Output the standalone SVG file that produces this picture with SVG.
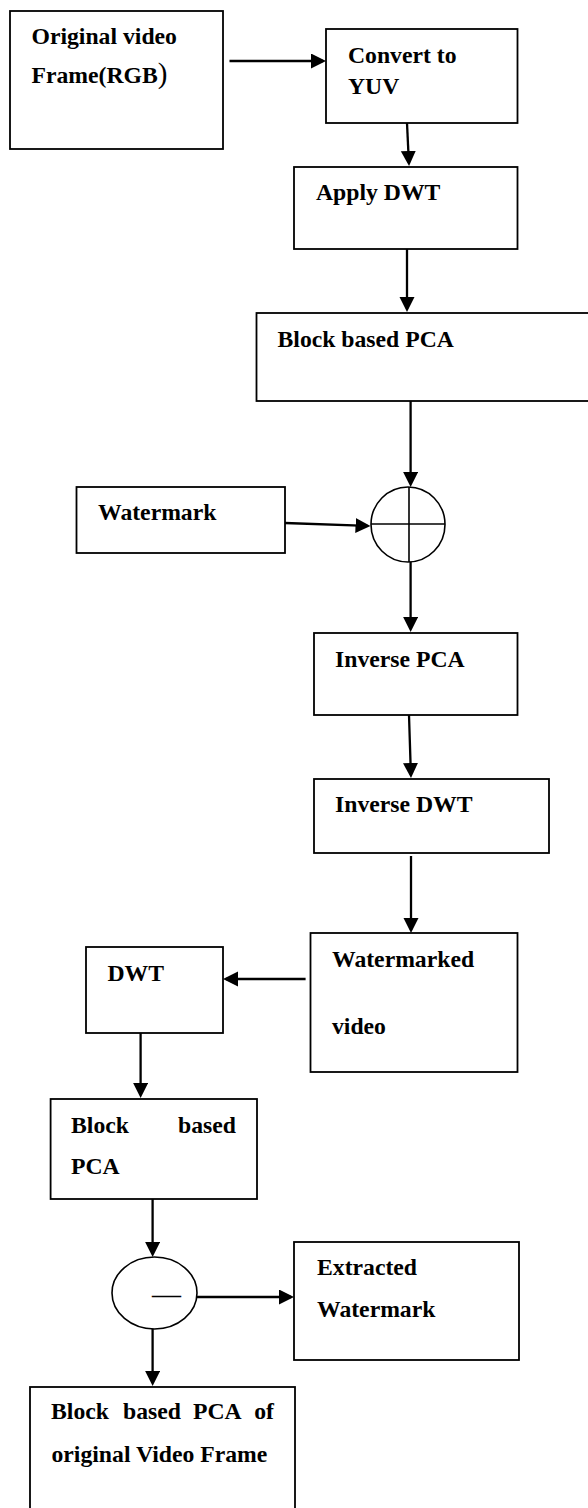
<svg xmlns="http://www.w3.org/2000/svg" width="588" height="1508" viewBox="0 0 588 1508">
<style>
.box{fill:#fff;stroke:#000;stroke-width:1.8}
.circ{fill:none;stroke:#000;stroke-width:1.6}
.t{font-family:"Liberation Serif","Times New Roman",serif;font-weight:bold;font-size:23.7px;fill:#000}
.c{fill:none;stroke:#000;stroke-width:2.3}
</style>
<defs>
<marker id="ah" markerUnits="userSpaceOnUse" markerWidth="16" markerHeight="16" refX="12" refY="7.5" orient="auto">
<path d="M0,0 L15,7.5 L0,15 Z" fill="#000"/>
</marker>
</defs>
<rect width="588" height="1508" fill="#fff"/>
<g id="n-original">
<rect class="box" x="10" y="11" width="213" height="138"/>
<text class="t" x="31.5" y="44">Original video</text>
<text class="t" x="31.5" y="83">Frame(RGB<tspan font-weight="normal" font-size="29">)</tspan></text>
</g>
<g id="n-yuv">
<rect class="box" x="326" y="29" width="191.5" height="94"/>
<text class="t" x="348" y="63">Convert to</text>
<text class="t" x="348" y="94">YUV</text>
</g>
<g id="n-dwt">
<rect class="box" x="294" y="167" width="223.5" height="82"/>
<text class="t" x="316" y="200">Apply DWT</text>
</g>
<g id="n-pca">
<rect class="box" x="256.5" y="313" width="345" height="88"/>
<text class="t" x="277.5" y="347">Block based PCA</text>
</g>
<g id="n-watermark">
<rect class="box" x="76.5" y="487" width="208.5" height="66"/>
<text class="t" x="98" y="520">Watermark</text>
</g>
<g id="n-sum">
<ellipse class="circ" cx="408" cy="524.5" rx="37" ry="37.5"/>
<line class="circ" x1="409" y1="487" x2="409" y2="562"/>
<line class="circ" x1="371" y1="524" x2="445" y2="524"/>
</g>
<g id="n-ipca">
<rect class="box" x="314" y="633" width="203.5" height="82"/>
<text class="t" x="335" y="667">Inverse PCA</text>
</g>
<g id="n-idwt">
<rect class="box" x="314" y="779" width="235" height="74"/>
<text class="t" x="335" y="812">Inverse DWT</text>
</g>
<g id="n-wmvideo">
<rect class="box" x="310.5" y="933" width="207" height="139"/>
<text class="t" x="332" y="967">Watermarked</text>
<text class="t" x="332" y="1034">video</text>
</g>
<g id="n-dwt2">
<rect class="box" x="86" y="947" width="137" height="86"/>
<text class="t" x="107.5" y="981">DWT</text>
</g>
<g id="n-pca2">
<rect class="box" x="50.6" y="1099" width="206.4" height="100"/>
<text class="t" x="71" y="1133">Block</text>
<text class="t" x="236" y="1133" text-anchor="end">based</text>
<text class="t" x="71" y="1174">PCA</text>
</g>
<g id="n-diff">
<ellipse class="circ" cx="154.5" cy="1293" rx="42.5" ry="36"/>
<text x="152" y="1304" font-family="Liberation Serif, serif" font-size="29" fill="#000">—</text>
</g>
<g id="n-extracted">
<rect class="box" x="294" y="1242" width="225" height="118"/>
<text class="t" x="317" y="1275">Extracted</text>
<text class="t" x="317" y="1317">Watermark</text>
</g>
<g id="n-original-pca">
<rect class="box" x="30" y="1387" width="265" height="140"/>
<text class="t" x="51" y="1419">Block</text>
<text class="t" x="123" y="1419">based</text>
<text class="t" x="193" y="1419">PCA</text>
<text class="t" x="274" y="1419" text-anchor="end">of</text>
<text class="t" x="51.5" y="1462">original Video Frame</text>
</g>
<g id="connectors">
<line class="c" x1="229.5" y1="61" x2="323" y2="61" marker-end="url(#ah)"/>
<line class="c" x1="407" y1="123" x2="408.9" y2="163" marker-end="url(#ah)"/>
<line class="c" x1="407" y1="249" x2="407" y2="309" marker-end="url(#ah)"/>
<line class="c" x1="410.6" y1="401" x2="410.6" y2="484" marker-end="url(#ah)"/>
<line class="c" x1="285" y1="523" x2="367.5" y2="525.9" marker-end="url(#ah)"/>
<line class="c" x1="410.6" y1="562" x2="410.6" y2="629" marker-end="url(#ah)"/>
<line class="c" x1="409" y1="715" x2="410.9" y2="775" marker-end="url(#ah)"/>
<line class="c" x1="411" y1="856" x2="411" y2="930" marker-end="url(#ah)"/>
<line class="c" x1="305.6" y1="979" x2="226" y2="979" marker-end="url(#ah)"/>
<line class="c" x1="140.6" y1="1033" x2="140.6" y2="1095" marker-end="url(#ah)"/>
<line class="c" x1="152.6" y1="1199" x2="152.6" y2="1254" marker-end="url(#ah)"/>
<line class="c" x1="197" y1="1297" x2="291" y2="1297" marker-end="url(#ah)"/>
<line class="c" x1="152.6" y1="1329" x2="152.6" y2="1383" marker-end="url(#ah)"/>
</g>
</svg>
